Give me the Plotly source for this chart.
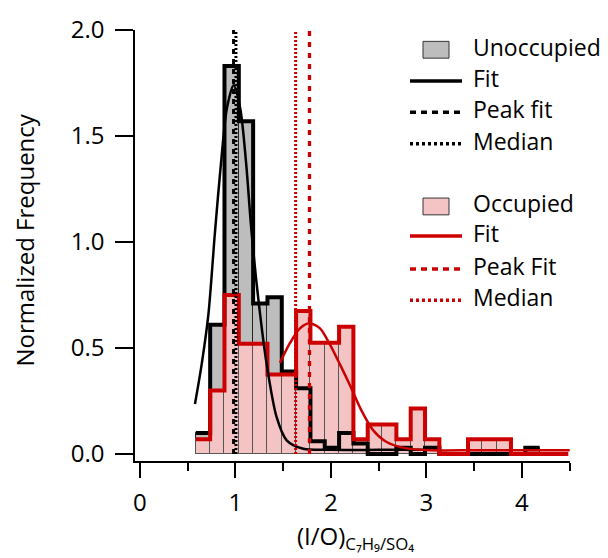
import plotly.graph_objects as go

# ---------------- data ----------------
bin_edges = [0.585, 0.735, 0.885, 1.035, 1.185, 1.335, 1.485, 1.635, 1.785,
             1.935, 2.085, 2.235, 2.385, 2.535, 2.685, 2.835, 2.985, 3.135,
             3.285, 3.435, 3.585, 3.735, 3.885, 4.035, 4.185, 4.335, 4.485]

unocc_freq = [0.10, 0.61, 1.83, 1.57, 0.71, 0.74, 0.39, 0.31, 0.06, 0.03,
              0.10, 0.05, 0.0, 0.0, 0.03, 0.0, 0.03, 0.0, 0.0, 0.0, 0.0,
              0.0, 0.0, 0.03]

occ_freq = [0.07, 0.30, 0.75, 0.52, 0.52, 0.375, 0.375, 0.675, 0.525, 0.525,
            0.60, 0.07, 0.14, 0.14, 0.07, 0.215, 0.07, 0.0, 0.0, 0.07, 0.07,
            0.07, 0.0, 0.0, 0.0, 0.0]

fit_unocc_x = [0.576, 0.646, 0.716, 0.785, 0.85, 0.91, 0.98, 1.05, 1.11,
               1.169, 1.239, 1.327, 1.431, 1.536, 1.71, 2.0, 2.5, 3.0]
fit_unocc_y = [0.236, 0.423, 0.656, 1.044, 1.38, 1.63, 1.74, 1.63, 1.38,
               1.044, 0.733, 0.423, 0.174, 0.065, 0.025, 0.02, 0.02, 0.02]

fit_occ_x = [1.466, 1.571, 1.675, 1.773, 1.885, 1.99, 2.094, 2.21, 2.32,
             2.443, 2.583, 2.79, 3.07, 3.5, 4.0, 4.5]
fit_occ_y = [0.43, 0.524, 0.593, 0.617, 0.593, 0.516, 0.423, 0.314, 0.205,
             0.112, 0.057, 0.027, 0.018, 0.018, 0.018, 0.018]

peak_unocc = 0.98
median_unocc = 1.005
peak_occ = 1.775
median_occ = 1.63
vline_span = [0.0, 2.0]

x_ticks = [0, 1, 2, 3, 4]
y_ticks = [0.0, 0.5, 1.0, 1.5, 2.0]

legend_labels = ["Unoccupied", "Fit", "Peak fit", "Median",
                 "Occupied", "Fit", "Peak Fit", "Median"]

# ---------------- styles ----------------
FONT = "Open Sans"
GRAY = "#bdbdbd"
PINK = "#f4c4c4"
RED = "#cc0000"
BLACK = "#000000"


def bars(vals):
    centers = [(bin_edges[i] + bin_edges[i + 1]) / 2 for i in range(len(vals))]
    widths = [bin_edges[i + 1] - bin_edges[i] for i in range(len(vals))]
    return centers, widths


def steps(vals):
    return bin_edges[:len(vals) + 1], list(vals) + [vals[-1]]


fig = go.Figure()

cu, wu = bars(unocc_freq)
fig.add_trace(go.Bar(x=cu, y=unocc_freq, width=wu,
                     marker=dict(color=GRAY, line=dict(color="#222222", width=1)),
                     showlegend=False, hoverinfo="skip"))
co, wo = bars(occ_freq)
fig.add_trace(go.Bar(x=co, y=occ_freq, width=wo,
                     marker=dict(color=PINK, line=dict(color="#555555", width=1)),
                     showlegend=False, hoverinfo="skip"))

sx, sy = steps(unocc_freq)
fig.add_trace(go.Scatter(x=sx, y=sy, mode="lines",
                         line=dict(shape="hv", color=BLACK, width=4),
                         showlegend=False, hoverinfo="skip"))
sx, sy = steps(occ_freq)
fig.add_trace(go.Scatter(x=sx, y=sy, mode="lines",
                         line=dict(shape="hv", color=RED, width=4),
                         showlegend=False, hoverinfo="skip"))

fig.add_trace(go.Scatter(x=fit_unocc_x, y=fit_unocc_y, mode="lines",
                         line=dict(shape="spline", smoothing=0.8, color=BLACK, width=2.5),
                         showlegend=False, hoverinfo="skip"))
fig.add_trace(go.Scatter(x=fit_occ_x, y=fit_occ_y, mode="lines",
                         line=dict(shape="spline", smoothing=0.8, color=RED, width=2.5),
                         showlegend=False, hoverinfo="skip"))

for xv, col, dash, w in [(peak_unocc, BLACK, "5px,5px", 3),
                         (median_unocc, BLACK, "2px,2px", 3),
                         (median_occ, RED, "2px,2px", 3),
                         (peak_occ, RED, "5px,6px", 3.3)]:
    fig.add_trace(go.Scatter(x=[xv, xv], y=vline_span, mode="lines",
                             line=dict(color=col, dash=dash, width=w),
                             showlegend=False, hoverinfo="skip"))

# ---------------- layout ----------------
L, R, T, B = 135, 38, 25, 97
W, H = 608, 558
pw, ph = W - L - R, H - T - B


def px2paper(px, py):
    return (px - L) / pw, (H - B - py) / ph


annotations = []
shapes = []

# axis titles
xt, yt = px2paper(355, 558)
annotations.append(dict(text="(I/O)<sub>C₇H₉/SO₄</sub>", x=xt, y=yt,
                        xref="paper", yref="paper", xanchor="center", yanchor="bottom",
                        showarrow=False, font=dict(family=FONT, size=24, color=BLACK)))
xt, yt = px2paper(25, 237)
annotations.append(dict(text="Normalized Frequency", x=xt, y=yt, textangle=-90,
                        xref="paper", yref="paper", xanchor="center", yanchor="middle",
                        showarrow=False, font=dict(family=FONT, size=24, color=BLACK)))

# legend
rows_y = [45, 76.7, 108.3, 140, 203.5, 233.3, 266.7, 298.3]
kinds = [("box", GRAY), ("solid", BLACK), ("dash", BLACK), ("dot", BLACK),
         ("box", PINK), ("solid", RED), ("dash", RED), ("dot", RED)]
for (kind, col), ry, lab in zip(kinds, rows_y, legend_labels):
    if kind == "box":
        x0, y0 = px2paper(423, ry + 8.5)
        x1, y1 = px2paper(449, ry - 8.5)
        shapes.append(dict(type="rect", xref="paper", yref="paper",
                           x0=x0, x1=x1, y0=y0, y1=y1, fillcolor=col,
                           line=dict(color="#333333", width=1)))
    else:
        x0, yy = px2paper(410, ry)
        x1, _ = px2paper(462, ry)
        dash = {"solid": "solid", "dash": "6px,5px", "dot": "3px,3px"}[kind]
        shapes.append(dict(type="line", xref="paper", yref="paper",
                           x0=x0, x1=x1, y0=yy, y1=yy,
                           line=dict(color=col, width=3.5, dash=dash)))
    tx, ty = px2paper(472, ry - 3)
    annotations.append(dict(text=lab, x=tx, y=ty, xref="paper", yref="paper",
                            xanchor="left", yanchor="middle", showarrow=False,
                            borderpad=0,
                            font=dict(family=FONT, size=23, color=BLACK)))

fig.update_layout(
    width=W, height=H,
    margin=dict(l=L, r=R, t=T, b=B),
    paper_bgcolor="white", plot_bgcolor="white",
    barmode="overlay", bargap=0,
    showlegend=False,
    font=dict(family=FONT, size=24, color=BLACK),
    annotations=annotations, shapes=shapes,
    xaxis=dict(range=[-0.052, 4.503], showgrid=False, zeroline=False,
               showline=True, linecolor=BLACK, linewidth=1.5,
               ticks="outside", ticklen=15, tickwidth=1.5, tickcolor=BLACK,
               tickmode="array", tickvals=x_ticks, ticktext=[str(v) for v in x_ticks],
               ticklabelstandoff=4,
               minor=dict(dtick=0.5, tick0=0, ticks="outside", ticklen=8,
                          tickwidth=1.5, tickcolor=BLACK, showgrid=False),
               tickfont=dict(family=FONT, size=24, color=BLACK)),
    yaxis=dict(range=[-0.0326, 2.0], showgrid=False, zeroline=False,
               showline=True, linecolor=BLACK, linewidth=1.5,
               ticks="outside", ticklen=18, tickwidth=1.5, tickcolor=BLACK,
               tickmode="array", tickvals=y_ticks,
               ticktext=[f"{v:.1f}" for v in y_ticks],
               ticklabelstandoff=6,
               tickfont=dict(family=FONT, size=24, color=BLACK)),
)

fig.write_html("out.html")
